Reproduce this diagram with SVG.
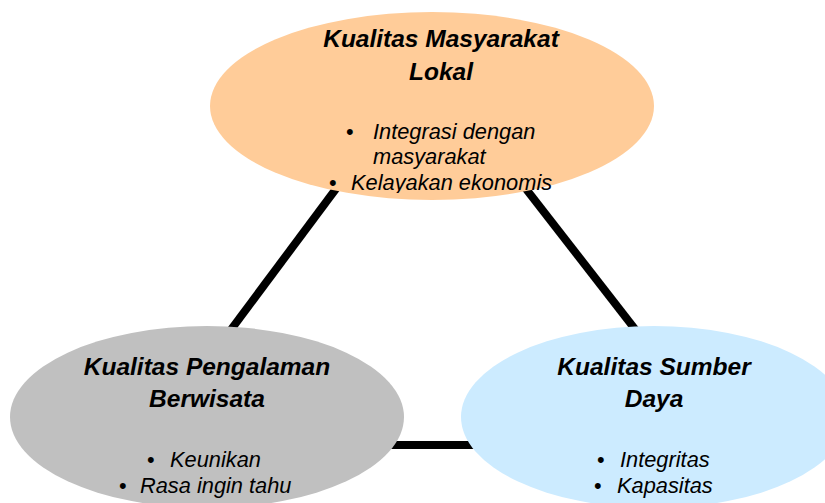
<svg xmlns="http://www.w3.org/2000/svg" width="825" height="503" viewBox="0 0 825 503">
<style>
.title{font-family:"Liberation Sans",Arial,sans-serif;font-weight:bold;font-style:italic;font-size:24.5px;fill:#000;text-anchor:middle}
.item{font-family:"Liberation Sans",Arial,sans-serif;font-style:italic;font-size:21.8px;fill:#000}
.bul{font-family:"Liberation Sans",Arial,sans-serif;font-size:21.8px;fill:#000}
.conn{stroke:#000;stroke-width:8;fill:none}
</style>
<defs>
<clipPath id="clipTop"><rect x="0" y="0" width="825" height="193"/></clipPath>
</defs>
<rect width="825" height="503" fill="#fff"/>
<g id="connectors">
<line class="conn" x1="429" y1="64" x2="145" y2="445"/>
<line class="conn" x1="429" y1="64" x2="725" y2="445"/>
<line class="conn" x1="145" y1="445" x2="725" y2="445"/>
</g>
<g id="node-masyarakat">
<ellipse cx="432" cy="106" rx="222" ry="94" fill="#FFCC99"/>
<text class="title" x="441" y="47">Kualitas Masyarakat</text>
<text class="title" x="441" y="80">Lokal</text>
<g clip-path="url(#clipTop)">
<text class="bul" x="346" y="139">•</text>
<text class="item" x="373" y="139">Integrasi dengan</text>
<text class="item" x="373" y="164">masyarakat</text>
<text class="bul" x="329" y="190">•</text>
<text class="item" x="351" y="190">Kelayakan ekonomis</text>
</g>
</g>
<g id="node-pengalaman">
<ellipse cx="207" cy="417" rx="197" ry="91" fill="#C0C0C0"/>
<text class="title" x="207" y="375">Kualitas Pengalaman</text>
<text class="title" x="207" y="407">Berwisata</text>
<text class="bul" x="147" y="467">•</text>
<text class="item" x="170" y="467">Keunikan</text>
<text class="bul" x="119" y="493">•</text>
<text class="item" x="140" y="493">Rasa ingin tahu</text>
</g>
<g id="node-sumber">
<ellipse cx="654" cy="417" rx="193" ry="91" fill="#CCEBFF"/>
<text class="title" x="654" y="375">Kualitas Sumber</text>
<text class="title" x="654" y="407">Daya</text>
<text class="bul" x="597" y="467">•</text>
<text class="item" x="620" y="467">Integritas</text>
<text class="bul" x="594" y="493">•</text>
<text class="item" x="617" y="493">Kapasitas</text>
</g>
</svg>
